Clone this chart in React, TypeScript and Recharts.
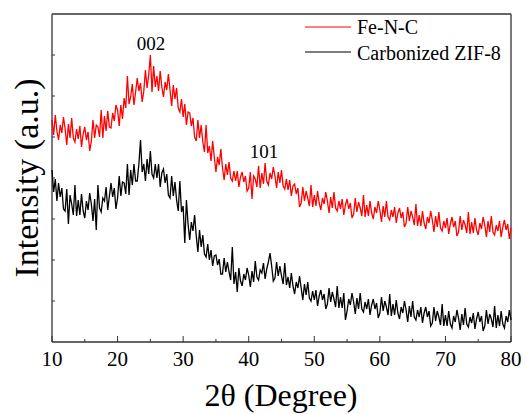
import { LineChart, Line, XAxis, YAxis } from "recharts";

const FONT = "Liberation Serif";

// scan grid: 10-80 deg, 0.25 deg step
const START = 10;
const STEP = 0.25;

// Fe-N-C (offset trace), a.u.
const feNC = [
  222, 207, 227, 211, 202, 217, 209, 225, 213, 197, 218, 204, 224, 204, 200, 213,
  203, 216, 195, 208, 215, 202, 210, 191, 201, 222, 204, 217, 215, 205, 232, 204,
  226, 211, 231, 215, 214, 229, 221, 237, 232, 216, 237, 223, 244, 234, 266, 238,
  245, 258, 237, 250, 264, 251, 259, 240, 251, 272, 254, 267, 287, 250, 276, 255,
  266, 251, 271, 255, 245, 260, 252, 268, 252, 236, 257, 243, 254, 234, 230, 243,
  225, 238, 217, 230, 229, 216, 224, 205, 201, 222, 204, 217, 200, 190, 217, 189,
  196, 181, 201, 185, 170, 185, 177, 193, 174, 162, 178, 167, 180, 164, 161, 171,
  161, 171, 155, 165, 170, 160, 166, 151, 154, 170, 143, 166, 163, 155, 176, 154,
  169, 158, 179, 161, 157, 169, 163, 175, 166, 154, 170, 159, 172, 156, 153, 163,
  152, 162, 146, 156, 158, 148, 154, 135, 139, 155, 141, 151, 144, 136, 157, 135,
  147, 136, 151, 139, 132, 144, 138, 150, 141, 129, 145, 134, 150, 134, 131, 141,
  133, 143, 127, 137, 143, 133, 139, 124, 128, 144, 130, 140, 134, 126, 147, 125,
  137, 126, 141, 129, 123, 135, 129, 141, 132, 120, 136, 125, 141, 125, 122, 132,
  125, 135, 119, 129, 134, 124, 130, 115, 119, 135, 121, 131, 125, 117, 138, 116,
  127, 116, 131, 119, 113, 125, 119, 131, 122, 110, 126, 115, 130, 114, 111, 121,
  114, 124, 108, 118, 125, 115, 121, 106, 110, 126, 112, 122, 117, 109, 130, 108,
  120, 109, 124, 112, 107, 119, 113, 125, 117, 105, 121, 110, 126, 110, 107, 117,
  111, 121, 105, 115, 122, 112, 118, 103, 114,
];

// Carbonized ZIF-8, a.u.
const zif8 = [
  172, 150, 163, 141, 159, 145, 154, 133, 131, 153, 118, 147, 138, 127, 157, 126,
  142, 127, 148, 131, 124, 141, 132, 149, 138, 121, 143, 112, 157, 134, 130, 144,
  141, 155, 132, 146, 159, 145, 154, 133, 144, 166, 146, 160, 159, 148, 178, 147,
  172, 157, 178, 161, 161, 178, 202, 170, 178, 161, 183, 168, 191, 168, 164, 178,
  164, 178, 155, 169, 173, 159, 168, 147, 144, 166, 146, 160, 142, 131, 161, 130,
  136, 99, 142, 118, 102, 120, 111, 127, 106, 90, 112, 95, 107, 88, 85, 98,
  82, 92, 76, 86, 87, 77, 83, 68, 68, 84, 70, 80, 70, 62, 95, 58,
  70, 50, 74, 61, 56, 68, 62, 74, 67, 55, 71, 60, 81, 65, 62, 72,
  69, 79, 63, 73, 80, 89, 76, 61, 64, 80, 66, 76, 66, 58, 79, 57,
  65, 54, 69, 56, 48, 60, 54, 66, 54, 42, 58, 47, 60, 44, 41, 51,
  42, 52, 36, 46, 52, 42, 48, 33, 38, 54, 40, 50, 43, 35, 56, 34,
  45, 34, 49, 22, 31, 43, 37, 49, 40, 28, 44, 33, 49, 33, 30, 40,
  33, 43, 27, 37, 43, 33, 39, 24, 29, 45, 31, 41, 35, 27, 48, 26,
  38, 27, 42, 29, 23, 35, 29, 41, 32, 20, 36, 25, 41, 25, 22, 32,
  25, 35, 19, 29, 35, 25, 31, 16, 19, 35, 21, 31, 25, 17, 38, 16,
  27, 16, 31, 18, 14, 26, 20, 32, 24, 12, 28, 17, 34, 18, 15, 25,
  19, 29, 13, 23, 30, 20, 26, 11, 16, 32, 18, 28, 23, 15, 36, 14,
  27, 16, 31, 18, 14, 26, 20, 32, 22,
];

const xTicks = [10, 15, 20, 25, 30, 35, 40, 45, 50, 55, 60, 65, 70, 75, 80];
const yTicks = [41, 82, 123, 164, 205, 246, 287];
const X_MIN = 10;
const X_MAX = 80;
const Y_MAX = 328;

const data = feNC.map((v, i) => ({
  t: START + i * STEP,
  fe: v,
  zif: zif8[i],
}));

const W = 526;
const H = 414;
const MARGIN = { top: 10, right: 11, bottom: 12, left: 12 };
const X_AXIS_H = 60;
const TOP_AXIS_H = 4;
const Y_AXIS_W = 40;
const RIGHT_AXIS_W = 4;

// plot box edges, from the layout above
const L = MARGIN.left + Y_AXIS_W;
const T = MARGIN.top + TOP_AXIS_H;
const R = W - MARGIN.right - RIGHT_AXIS_W;
const B = H - MARGIN.bottom - X_AXIS_H;

const AXIS = "#333";

function XTick(props: any) {
  const { x, y, payload } = props;
  const major = payload.value % 10 === 0;
  return (
    <g>
      <line x1={x} x2={x} y1={y} y2={y - (major ? 6 : 3)} stroke={AXIS} />
      {major && (
        <text x={x} y={y + 24} textAnchor="middle" fontSize={21} fontFamily={FONT} fill="#000">
          {payload.value}
        </text>
      )}
    </g>
  );
}

function YTick(props: any) {
  const { x, y } = props;
  return <line x1={x} x2={x + 3} y1={y} y2={y} stroke={AXIS} />;
}

export default function App() {
  return (
    <div style={{ position: "absolute", left: 0, top: 0, width: W, height: H, background: "#fff", fontFamily: FONT }}>
      <LineChart width={W} height={H} data={data} margin={MARGIN}>
        <XAxis
          dataKey="t"
          type="number"
          domain={[X_MIN, X_MAX]}
          ticks={xTicks}
          height={X_AXIS_H}
          tickSize={0}
          tickMargin={0}
          tickLine={false}
          tick={<XTick />}
          axisLine={false}
          interval={0}
        />
        <XAxis
          xAxisId="top"
          orientation="top"
          type="number"
          domain={[X_MIN, X_MAX]}
          height={TOP_AXIS_H}
          tick={false}
          tickLine={false}
          axisLine={false}
        />
        <YAxis
          type="number"
          domain={[0, Y_MAX]}
          ticks={yTicks}
          width={Y_AXIS_W}
          tickSize={0}
          tickMargin={0}
          tickLine={false}
          tick={<YTick />}
          axisLine={false}
          interval={0}
        />
        <YAxis
          yAxisId="right"
          orientation="right"
          domain={[0, Y_MAX]}
          width={RIGHT_AXIS_W}
          tick={false}
          tickLine={false}
          axisLine={false}
        />

        <Line
          type="linear"
          dataKey="fe"
          stroke="#ff0000"
          strokeWidth={1.3}
          dot={false}
          isAnimationActive={false}
        />
        <Line
          type="linear"
          dataKey="zif"
          stroke="#000000"
          strokeWidth={1.3}
          dot={false}
          isAnimationActive={false}
        />

        {/* plot frame */}
        <line x1={L} x2={R} y1={B} y2={B} stroke={AXIS} strokeWidth={1.3} />
        <line x1={L} x2={R} y1={T} y2={T} stroke={AXIS} strokeWidth={1.3} />
        <line x1={L} x2={L} y1={T} y2={B} stroke={AXIS} strokeWidth={1.3} />
        <line x1={R} x2={R} y1={T} y2={B} stroke={AXIS} strokeWidth={1.3} />

        {/* peak labels */}
        <text x={151} y={50} textAnchor="middle" fontSize={19} fontFamily={FONT}>002</text>
        <text x={264} y={158} textAnchor="middle" fontSize={19} fontFamily={FONT}>101</text>

        {/* legend */}
        <line x1={305} x2={351} y1={27} y2={27} stroke="#ff0000" />
        <text x={357} y={34} fontSize={20} fontFamily={FONT}>Fe-N-C</text>
        <line x1={305} x2={351} y1={52} y2={52} stroke="#000" />
        <text x={357} y={60} fontSize={20} fontFamily={FONT}>Carbonized ZIF-8</text>

        {/* axis titles */}
        <text x={281} y={406} textAnchor="middle" fontSize={32} fontFamily={FONT}>2θ (Degree)</text>
        <text
          x={38}
          y={178}
          textAnchor="middle"
          fontSize={34}
          fontFamily={FONT}
          transform="rotate(-90 38 178)"
        >
          Intensity (a.u.)
        </text>
      </LineChart>
    </div>
  );
}
